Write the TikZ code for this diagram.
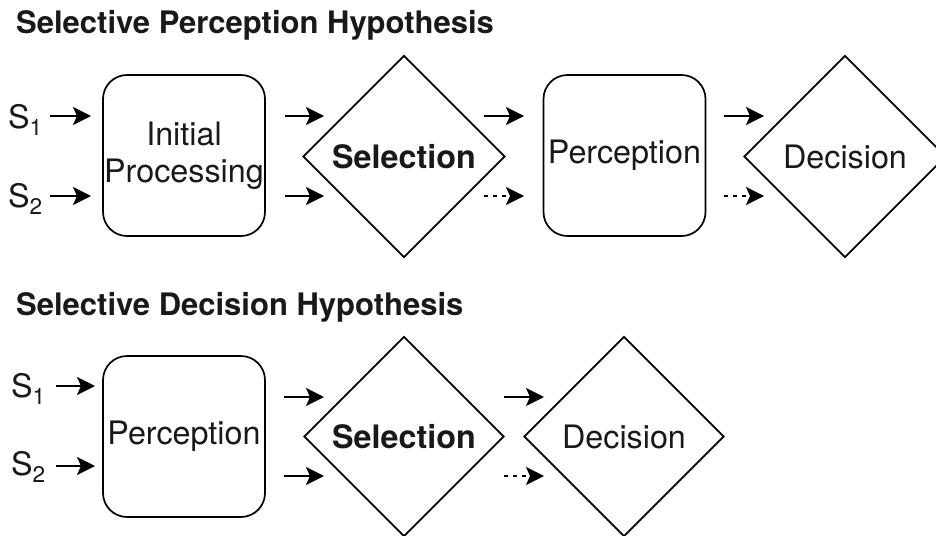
\documentclass[tikz,border=0pt]{standalone}
\usepackage{fontspec}
\setmainfont{TeX Gyre Heros}
\usetikzlibrary{arrows.meta,shapes.geometric}
\begin{document}
\begin{tikzpicture}[x=1pt,y=-1pt,
  every node/.style={font=\fontsize{32.3}{37}\selectfont, text=black!90},
  procbox/.style={draw, line width=1.7pt, rounded corners=24pt, minimum width=162pt, minimum height=161pt, inner sep=0pt, align=center},
  choice/.style={draw, diamond, aspect=1, line width=1.7pt, minimum width=202pt, minimum height=202pt, inner sep=0pt},
  title/.style={font=\fontsize{31}{35}\selectfont\bfseries, anchor=base west, inner sep=0pt},
  slabel/.style={anchor=base east, inner sep=0pt},
  arr/.style={line width=1.8pt, -{Stealth[length=18pt,width=18pt,inset=4pt]}},
  darr/.style={arr, dash pattern=on 4pt off 5pt}
]
\useasboundingbox (0,0) rectangle (936,535);

% ---- Top: Selective Perception Hypothesis
\node[title] (t1) at (16,34) {Selective Perception Hypothesis};
\node[procbox] (ip) at (184,155.5) {Initial\\Processing};
\node[choice, font=\fontsize{32.3}{37}\selectfont\bfseries] (sel1) at (404,156.5) {Selection};
\node[procbox] (per1) at (624.5,155.5) {Perception};
\node[choice] (dec1) at (845,156.5) {Decision};

\node[slabel] (s1a) at (43,128) {S\textsubscript{1}};
\node[slabel] (s2a) at (43,207) {S\textsubscript{2}};

\coordinate (s1as) at (50,116); \coordinate (s1ae) at (91,116);
\coordinate (s2as) at (50,196); \coordinate (s2ae) at (91,196);
\draw[arr] (s1as) -- (s1ae);
\draw[arr] (s2as) -- (s2ae);

\coordinate (a1s) at (285,116); \coordinate (a1e) at (324,116);
\coordinate (a2s) at (285,196); \coordinate (a2e) at (324,196);
\draw[arr] (a1s) -- (a1e);
\draw[arr] (a2s) -- (a2e);

\coordinate (b1s) at (484,116); \coordinate (b1e) at (524,116);
\coordinate (b2s) at (484,196); \coordinate (b2e) at (524,196);
\draw[arr] (b1s) -- (b1e);
\draw[darr] (b2s) -- (b2e);

\coordinate (c1s) at (724,116); \coordinate (c1e) at (764,116);
\coordinate (c2s) at (724,196); \coordinate (c2e) at (764,196);
\draw[arr] (c1s) -- (c1e);
\draw[darr] (c2s) -- (c2e);

% ---- Bottom: Selective Decision Hypothesis
\node[title] (t2) at (16,315) {Selective Decision Hypothesis};
\node[procbox] (per2) at (184,436.5) {Perception};
\node[choice, minimum width=200pt, minimum height=200pt, font=\fontsize{32.3}{37}\selectfont\bfseries] (sel2) at (404,436.5) {Selection};
\node[choice, minimum width=200pt, minimum height=200pt] (dec2) at (624,436.5) {Decision};

\node[slabel] (s1b) at (46,397) {S\textsubscript{1}};
\node[slabel] (s2b) at (46,475) {S\textsubscript{2}};

\coordinate (s1bs) at (56,386); \coordinate (s1be) at (95,386);
\coordinate (s2bs) at (56,466); \coordinate (s2be) at (95,466);
\draw[arr] (s1bs) -- (s1be);
\draw[arr] (s2bs) -- (s2be);

\coordinate (d1s) at (284,397); \coordinate (d1e) at (324,397);
\coordinate (d2s) at (284,476); \coordinate (d2e) at (324,476);
\draw[arr] (d1s) -- (d1e);
\draw[arr] (d2s) -- (d2e);

\coordinate (e1s) at (504,397); \coordinate (e1e) at (544,397);
\coordinate (e2s) at (504,476); \coordinate (e2e) at (544,476);
\draw[arr] (e1s) -- (e1e);
\draw[darr] (e2s) -- (e2e);
\end{tikzpicture}
\end{document}
